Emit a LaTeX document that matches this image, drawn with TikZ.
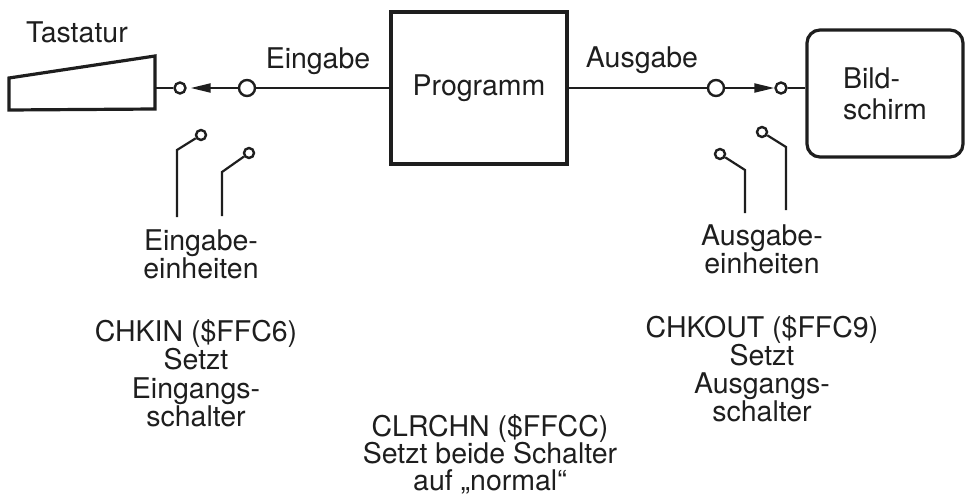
\documentclass[tikz,border=0pt]{standalone}
\usepackage{fontspec}
\setmainfont{TeX Gyre Heros}
\usetikzlibrary{arrows.meta}
\definecolor{ink}{HTML}{1E1E1E}
\tikzset{
  lbl/.style={font=\fontsize{28.5}{28}\selectfont, inner sep=0pt, anchor=base, text=ink},
  box/.style={draw=ink, line width=3.2pt, inner sep=0pt},
  wire/.style={draw=ink, line width=2.2pt},
  termS/.style={circle, draw=ink, line width=2.4pt, inner sep=0pt, minimum size=11pt, fill=white},
  termB/.style={circle, draw=ink, line width=2.4pt, inner sep=0pt, minimum size=16pt, fill=white},
  contact/.style={circle, draw=ink, line width=2.4pt, inner sep=0pt, minimum size=10pt, fill=white},
  tip/.style={-{Triangle[length=20pt,width=9pt]}}
}
\begin{document}
\begin{tikzpicture}[x=1pt,y=-1pt]
\useasboundingbox (0,0) rectangle (965,503);

% Keyboard
\draw[box, line join=miter] (9,78) -- (155,56) -- (155,109) -- (9,110) -- cycle;
\coordinate (kbd) at (155,88);
\node[lbl] (tast) at (77,43) {Tastatur};

% Program box
\node[box, minimum width=176pt, minimum height=152pt, font=\fontsize{28.5}{28}\selectfont, text=ink] (prog) at (479,88) {Programm};

% Screen box
\node[box, rounded corners=13pt, minimum width=156pt, minimum height=127pt, align=left, font=\fontsize{28.5}{31}\selectfont, text=ink] (screen) at (885,93.5) {Bild-\\schirm};

% Terminals
\node[termS] (inS) at (180,88) {};
\node[termB] (inB) at (247,88) {};
\node[termB] (outB) at (716,88) {};
\node[termS] (outS) at (781,88) {};

% Connectors
\draw[wire] (kbd) -- (inS);
\draw[wire, tip, shorten >=4pt] (inB) -- (inS);
\draw[wire] (inB) -- (prog.west |- inB);
\draw[wire] (prog.east |- outB) -- (outB);
\draw[wire, tip] (outB) -- (outS);
\draw[wire] (outS) -- (screen.west |- outS);

\node[lbl] (einl) at (318,68) {Eingabe};
\node[lbl] (ausl) at (642,67) {Ausgabe};

% Input switches
\node[contact] (ic1) at (201,135) {};
\coordinate (ik1) at (177,150);
\coordinate (ib1) at (177,217);
\draw[wire] (ib1) -- (ik1) -- (ic1);
\node[contact] (ic2) at (249,153) {};
\coordinate (ik2) at (222,172);
\coordinate (ib2) at (222,216);
\draw[wire] (ib2) -- (ik2) -- (ic2);

% Output switches
\node[contact] (oc1) at (720,154) {};
\coordinate (ok1) at (745,170);
\coordinate (ob1) at (745,213);
\draw[wire] (ob1) -- (ok1) -- (oc1);
\node[contact] (oc2) at (762,132) {};
\coordinate (ok2) at (786,147);
\coordinate (ob2) at (786,210);
\draw[wire] (ob2) -- (ok2) -- (oc2);

% Unit labels
\node[lbl] (ein1) at (201,250) {Eingabe-};
\node[lbl] (ein2) at (201,278) {einheiten};
\node[lbl] (aus1) at (762,245) {Ausgabe-};
\node[lbl] (aus2) at (762,273) {einheiten};

% CHKIN
\node[lbl] (ci1) at (196,341) {CHKIN (\$FFC6)};
\node[lbl] (ci2) at (196,369) {Setzt};
\node[lbl] (ci3) at (196,398) {Eingangs-};
\node[lbl] (ci4) at (196,426) {schalter};

% CHKOUT
\node[lbl] (co1) at (762,337) {CHKOUT (\$FFC9)};
\node[lbl] (co2) at (762,365) {Setzt};
\node[lbl] (co3) at (762,393) {Ausgangs-};
\node[lbl] (co4) at (762,421) {schalter};

% CLRCHN
\node[lbl] (cl1) at (490,436) {CLRCHN (\$FFCC)};
\node[lbl] (cl2) at (490,463) {Setzt beide Schalter};
\node[lbl] (cl3) at (490,490) {auf „normal“};
\end{tikzpicture}
\end{document}
